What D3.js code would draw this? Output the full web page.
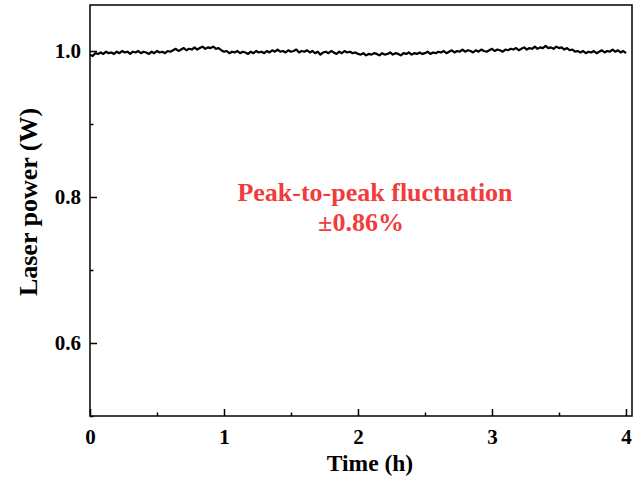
<!DOCTYPE html>
<html><head><meta charset="utf-8">
<script src="https://cdn.jsdelivr.net/npm/d3@7"></script>
<style>body{margin:0;background:#fff}svg{display:block}</style>
</head><body>
<script>
// Data: laser power (W) sampled every 0.02 h from 0 to 4 h
const timeStep = 0.02;
const power = [
0.995,0.993,0.997,0.996,0.998,0.996,0.999,0.997,0.998,0.996,0.999,
0.997,1.000,0.998,0.999,0.996,0.999,0.998,1.000,0.997,0.999,0.998,0.996,0.999,0.997,1.000,0.998,0.999,0.997,1.000,0.999,
1.001,1.003,1.000,1.002,1.004,1.001,1.003,1.002,1.005,1.002,1.004,1.006,1.003,1.005,1.004,1.006,1.003,1.004,
1.001,0.999,1.000,0.997,0.999,0.998,1.000,0.997,0.999,0.998,0.996,0.999,0.997,1.000,0.998,0.999,0.997,
1.000,0.998,1.001,0.999,1.002,0.999,1.000,0.998,1.001,0.999,1.000,1.002,0.998,1.000,0.999,1.001,0.998,1.000,
0.997,0.999,0.995,0.998,0.999,0.997,1.000,0.998,0.996,0.999,0.997,1.000,0.998,0.999,0.997,0.998,0.996,
0.995,0.997,0.994,0.996,0.995,0.997,0.996,0.994,0.997,0.995,0.996,0.998,0.995,0.997,0.996,0.994,0.997,0.996,0.998,0.995,0.997,0.996,0.998,0.996,0.997,0.999,0.996,0.998,0.997,0.999,
0.998,1.000,0.997,0.999,1.001,0.998,1.000,0.999,1.002,0.999,1.001,1.000,0.998,1.001,0.999,1.002,1.000,0.999,1.001,1.003,1.000,1.002,1.001,0.999,1.002,
1.001,1.003,1.002,1.004,1.001,1.003,1.005,1.002,1.004,1.003,1.006,1.003,1.005,1.004,1.007,1.004,1.005,1.003,1.006,1.004,1.005,1.002,1.004,
1.001,1.002,0.999,1.000,0.998,1.000,0.997,0.999,0.998,1.000,0.997,0.999,1.001,0.998,1.000,0.999,1.002,0.999,1.001,0.998,1.000,0.997
];
const xTicks = [0, 1, 2, 3, 4];
const xMinorTicks = [0.5, 1.5, 2.5, 3.5];
const yTicks = [0.6, 0.8, 1.0];
const yMinorTicks = [0.5, 0.7, 0.9];
const xTitle = "Time (h)";
const yTitle = "Laser power (W)";
const noteLines = ["Peak-to-peak fluctuation", "±0.86%"];

const W = 643, H = 479;
const m = {left: 90, right: 11, top: 5, bottom: 63};
const svg = d3.select("body").append("svg").attr("width", W).attr("height", H);
const x = d3.scaleLinear().domain([0, 4.045]).range([m.left, W - m.right]);
const y = d3.scaleLinear().domain([0.5, 1.063]).range([H - m.bottom, m.top]);
const font = "'Liberation Serif','Times New Roman',serif";

const data = power.map((v, i) => ({t: i * timeStep, v}));

// line
svg.append("path").datum(data)
  .attr("fill", "none").attr("stroke", "#000").attr("stroke-width", 2.2)
  .attr("stroke-linejoin", "round")
  .attr("d", d3.line().x(d => x(d.t)).y(d => y(d.v)));

// frame
svg.append("rect").attr("x", x.range()[0]).attr("y", y.range()[1])
  .attr("width", x.range()[1] - x.range()[0]).attr("height", y.range()[0] - y.range()[1])
  .attr("fill", "none").attr("stroke", "#000").attr("stroke-width", 1.5);

// x axis
const gx = svg.append("g").attr("transform", `translate(0,${y.range()[0]})`)
  .call(d3.axisBottom(x).tickValues(xTicks).tickFormat(d3.format("d")).tickSizeInner(-7).tickSizeOuter(0).tickPadding(13));
gx.call(g => g.select(".domain").remove());
gx.selectAll("line").attr("stroke-width", 1.5);
gx.selectAll("text").attr("font-family", font).attr("font-weight", "bold").attr("font-size", 21).attr("fill", "#000");
const gxm = svg.append("g").attr("transform", `translate(0,${y.range()[0]})`)
  .call(d3.axisBottom(x).tickValues(xMinorTicks).tickFormat("").tickSizeInner(-3.5).tickSizeOuter(0));
gxm.select(".domain").remove();
gxm.selectAll("line").attr("stroke-width", 1.5);

// y axis
const gy = svg.append("g").attr("transform", `translate(${x.range()[0]},0)`)
  .call(d3.axisLeft(y).tickValues(yTicks).tickFormat(d3.format(".1f")).tickSizeInner(-7).tickSizeOuter(0).tickPadding(9));
gy.select(".domain").remove();
gy.selectAll("line").attr("stroke-width", 1.5);
gy.selectAll("text").attr("font-family", font).attr("font-weight", "bold").attr("font-size", 21).attr("fill", "#000");
const gym = svg.append("g").attr("transform", `translate(${x.range()[0]},0)`)
  .call(d3.axisLeft(y).tickValues(yMinorTicks).tickFormat("").tickSizeInner(-3.5).tickSizeOuter(0));
gym.select(".domain").remove();
gym.selectAll("line").attr("stroke-width", 1.5);

// titles
svg.append("text").attr("x", 370).attr("y", 471).attr("text-anchor", "middle")
  .attr("font-family", font).attr("font-weight", "bold").attr("font-size", 23.5).text(xTitle);
svg.append("text").attr("transform", "translate(37,202) rotate(-90)").attr("text-anchor", "middle")
  .attr("font-family", font).attr("font-weight", "bold").attr("font-size", 26).text(yTitle);

// annotation
svg.append("text").attr("x", 375).attr("y", 201).attr("text-anchor", "middle")
  .attr("font-family", font).attr("font-weight", "bold").attr("font-size", 26).attr("fill", "#f03c3c").text(noteLines[0]);
svg.append("text").attr("x", 361).attr("y", 231).attr("text-anchor", "middle")
  .attr("font-family", font).attr("font-weight", "bold").attr("font-size", 26).attr("fill", "#f03c3c").text(noteLines[1]);
</script>
</body></html>
